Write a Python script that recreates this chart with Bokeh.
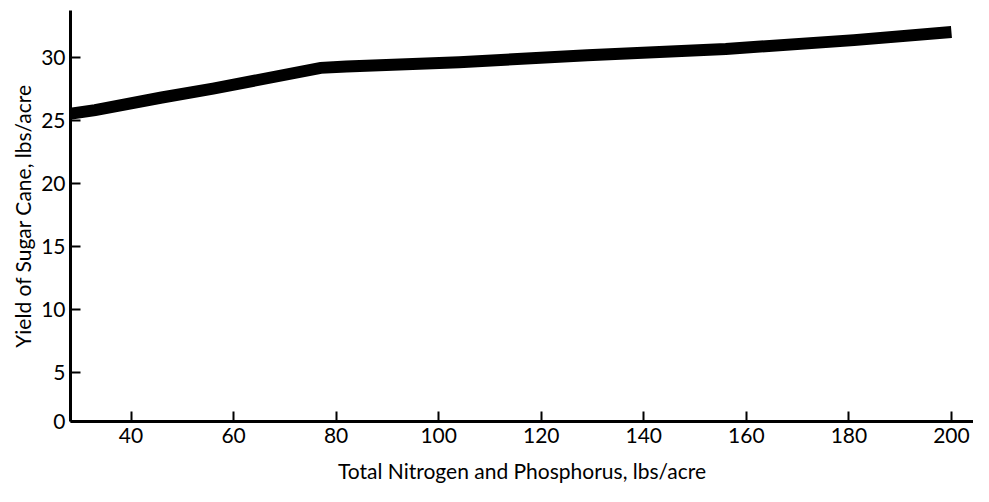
from bokeh.plotting import figure
from bokeh.models import Range1d, FixedTicker
from bokeh.embed import file_html
from bokeh.resources import INLINE

# Data
nutrient_lbs = [28, 33, 46, 56, 77, 82, 104, 129, 156, 181, 200]
yield_lbs = [25.5, 25.8, 26.8, 27.5, 29.15, 29.25, 29.6, 30.15, 30.65, 31.35, 32.0]
x_ticks = [40, 60, 80, 100, 120, 140, 160, 180, 200]
y_origin = 1.1
y_ticks = [y_origin, 5, 10, 15, 20, 25, 30]

FONT = "Lato"

p = figure(width=973, height=486, output_backend="svg", toolbar_location=None,
           x_range=Range1d(28.2, 204.3), y_range=Range1d(y_origin, 33.7),
           min_border_left=70, min_border_right=0, min_border_top=10, min_border_bottom=65)
p.outline_line_color = None
p.grid.visible = False
p.background_fill_color = "white"
p.border_fill_color = "white"

p.line(nutrient_lbs, yield_lbs, line_width=12, line_color="black", line_cap="butt", line_join="miter")

for ax in (p.xaxis[0], p.yaxis[0]):
    ax.axis_line_color = "black"
    ax.axis_line_width = 3
    ax.major_tick_line_color = "black"
    ax.major_tick_line_width = 2
    ax.major_tick_out = 0
    ax.major_tick_in = 10
    ax.minor_tick_line_color = None
    ax.major_label_text_font = FONT
    ax.major_label_text_font_size = "21px"
    ax.major_label_text_color = "black"
    ax.axis_label_text_font = FONT
    ax.axis_label_text_font_size = "21px"
    ax.axis_label_text_font_style = "normal"
    ax.axis_label_text_color = "black"

p.xaxis.ticker = FixedTicker(ticks=x_ticks)
p.yaxis.ticker = FixedTicker(ticks=y_ticks)
p.yaxis.major_label_overrides = {y_origin: "0"}
p.xaxis.major_label_standoff = 6
p.yaxis.major_label_standoff = 5
p.xaxis.axis_label = "Total Nitrogen and Phosphorus, lbs/acre"
p.yaxis.axis_label = "Yield of Sugar Cane, lbs/acre"
p.xaxis.axis_label_standoff = 12
p.yaxis.axis_label_standoff = 3

open("out.html", "w").write(file_html(p, INLINE))
